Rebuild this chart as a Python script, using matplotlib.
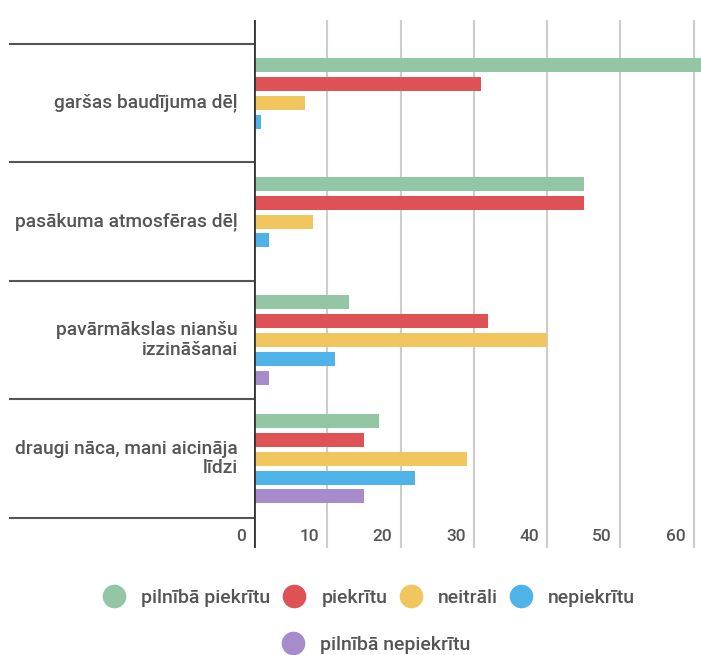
import matplotlib

matplotlib.use("Agg")
import matplotlib.pyplot as plt
from matplotlib.lines import Line2D


CATEGORIES = [
    "garšas baudījuma dēļ",
    "pasākuma atmosfēras dēļ",
    "pavārmākslas nianšu\nizzināšanai",
    "draugi nāca, mani aicināja\nlīdzi",
]
SERIES = [
    "pilnībā piekrītu",
    "piekrītu",
    "neitrāli",
    "nepiekrītu",
    "pilnībā nepiekrītu",
]
VALUES = {
    "pilnībā piekrītu": [61, 45, 13, 17],
    "piekrītu": [31, 45, 32, 15],
    "neitrāli": [7, 8, 40, 29],
    "nepiekrītu": [1, 2, 11, 22],
    "pilnībā nepiekrītu": [0, 0, 2, 15],
}
COLORS = ["#93C6A5", "#DE5256", "#F1C65E", "#4FB2E8", "#A78CCB"]
X_TICKS = [0, 10, 20, 30, 40, 50, 60]

plt.rcParams["font.family"] = ["Roboto", "DejaVu Sans"]

fig = plt.figure(figsize=(7.01, 6.55), dpi=100)
ax = fig.add_axes([254 / 701.0, 1 - 548 / 655.0, 1 - 254 / 701.0, 528 / 655.0])

slot = 0.159
bar_h = 0.118
for idx, (name, color) in enumerate(zip(SERIES, COLORS)):
    ys = [i + 0.5 + (idx - 2) * slot for i in range(len(CATEGORIES))]
    ax.barh(ys, VALUES[name], height=bar_h, color=color, zorder=3)

ax.set_xlim(0, 61)
ax.set_ylim(4.253, -0.2)
ax.set_xticks(X_TICKS)
ax.set_yticks([])
ax.tick_params(axis="x", length=0, labelbottom=False)
ax.grid(axis="x", color="#CCCCCC", linewidth=1.5, zorder=0)
for side in ["top", "right", "bottom", "left"]:
    ax.spines[side].set_visible(False)

# dark zero axis
ax.axvline(0, color="#333333", linewidth=2, zorder=4)

# category separators running into the label area
for i in range(len(CATEGORIES) + 1):
    ax.plot([-0.546, 0], [i, i], transform=ax.get_yaxis_transform(),
            color="#555555", linewidth=1.5, clip_on=False)

for i, label in enumerate(CATEGORIES):
    ax.annotate(label, xy=(0, i + 0.5), xycoords=ax.get_yaxis_transform(),
                xytext=(-11.5, 0), textcoords="offset points", ha="right",
                va="center", fontsize=13.8, fontweight="medium", color="#555555",
                linespacing=1.1)

for tick in X_TICKS:
    ax.annotate(str(tick), xy=(tick, 4.16), xytext=(-6, 0),
                textcoords="offset points", ha="right", va="center",
                fontsize=12.5, fontweight="medium", color="#555555",
                annotation_clip=False)

handles = [Line2D([], [], linestyle="none", marker="o", markersize=16,
                  markerfacecolor=c, markeredgecolor=c) for c in COLORS]
leg_kw = dict(frameon=False, fontsize=14, handlelength=1.0, handletextpad=0.9,
              columnspacing=0.7, labelcolor="#555555",
              prop={"size": 14, "weight": "medium"})
leg_kw.pop("fontsize")
fig.legend(handles[:4], SERIES[:4], loc="center", ncol=4,
           bbox_to_anchor=(370 / 701.0, 1 - 598 / 655.0), **leg_kw)
fig.legend(handles[4:], SERIES[4:], loc="center", ncol=1,
           bbox_to_anchor=(377 / 701.0, 1 - 645 / 655.0), **leg_kw)

fig.savefig("out.png", dpi=100)
